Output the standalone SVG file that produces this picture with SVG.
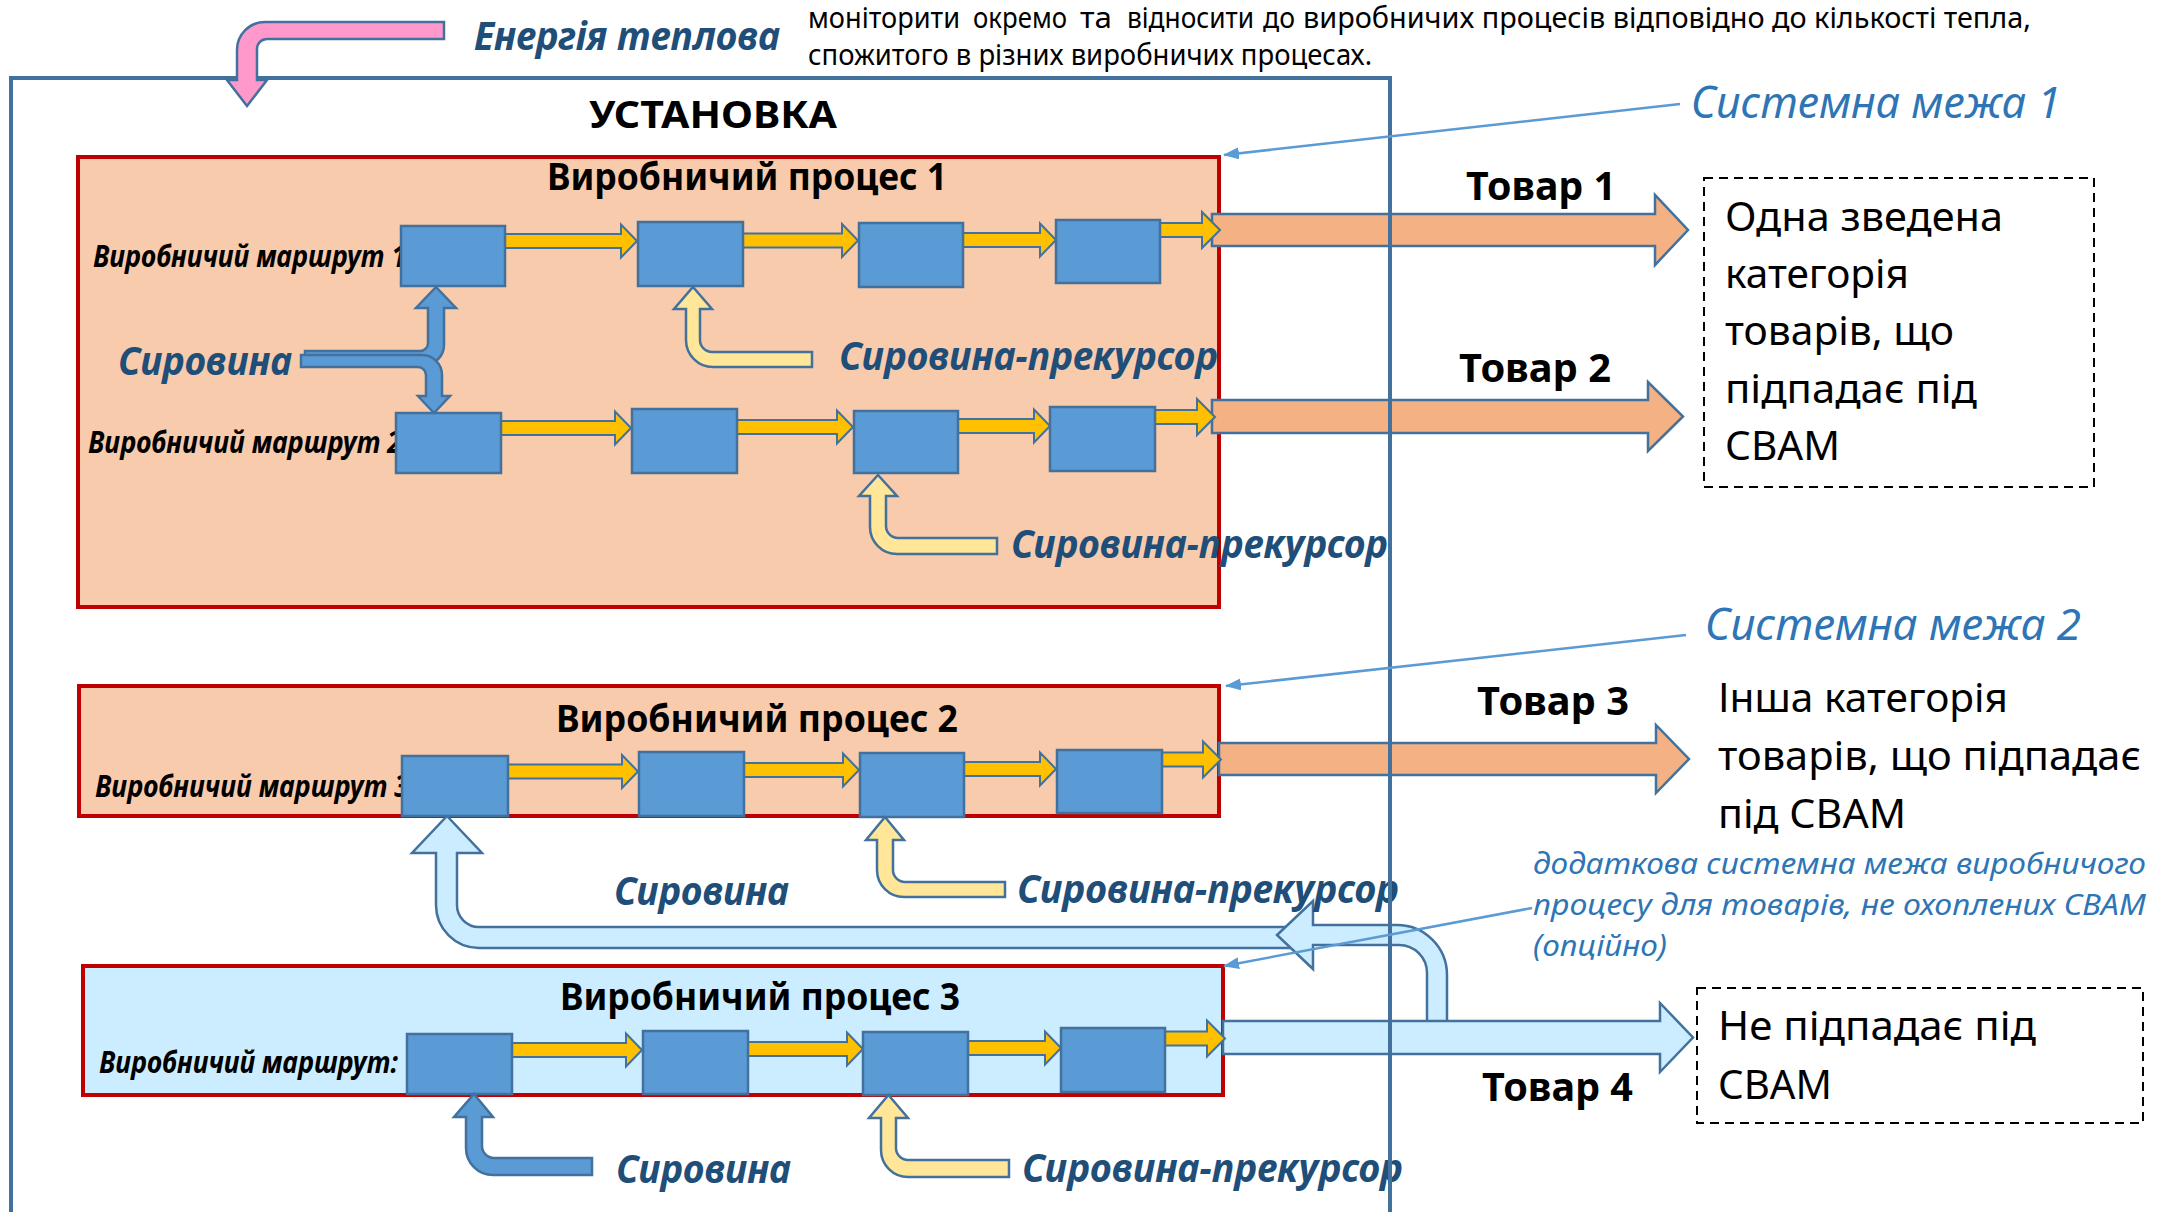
<svg xmlns="http://www.w3.org/2000/svg" width="2177" height="1212" viewBox="0 0 2177 1212">
<style>
text{font-family:"Noto Sans","Open Sans","DejaVu Sans",sans-serif}
.proc{stroke:#C00000;stroke-width:4}
.box{fill:#5B9BD5;stroke:#41719C;stroke-width:2.5}
.ya{fill:#FFC000;stroke:#41719C;stroke-width:2}
.pre{fill:#FFE699;stroke:#41719C;stroke-width:2.5}
.raw{fill:#5B9BD5;stroke:#41719C;stroke-width:2.5}
.lb{fill:#CCECFF;stroke:#41719C;stroke-width:2.5}
.prod{fill:#F4B183;stroke:#41719C;stroke-width:2.5}
.ptr{stroke:#5B9BD5;stroke-width:2.5;fill:none}
.dash{fill:none;stroke:#000;stroke-width:2;stroke-dasharray:9 6}
.t-title{font-weight:700;font-size:37px;fill:#000}
.t-route{font-weight:700;font-style:italic;font-size:30px;fill:#000}
.t-lab{font-weight:700;font-style:italic;font-size:39px;fill:#1F4E79}
.t-good{font-weight:700;font-size:40px;fill:#000}
.t-cat{font-size:40px;fill:#000}
.t-sys{font-style:italic;font-size:43px;fill:#2E75B6}
.t-note{font-style:italic;font-size:30px;fill:#2E75B6}
.t-top{font-size:29px;fill:#000}
</style>
<defs>
<marker id="ah" markerUnits="userSpaceOnUse" markerWidth="16" markerHeight="12" refX="15" refY="6" orient="auto">
<path d="M0,0 L16,6 L0,12 Z" fill="#5B9BD5"/>
</marker>
</defs>

<g id="process1">
<rect class="proc" x="78" y="157" width="1141" height="450" fill="#F8CBAD"/>
<text class="t-route" x="93" y="267" textLength="313" lengthAdjust="spacingAndGlyphs">Виробничий маршрут 1</text>
<text class="t-route" x="88" y="453" textLength="314" lengthAdjust="spacingAndGlyphs">Виробничий маршрут 2</text>
<text class="t-title" x="547" y="190" textLength="400" lengthAdjust="spacingAndGlyphs">Виробничий процес 1</text>
</g>
<g id="process2">
<rect class="proc" x="79" y="686" width="1140" height="130" fill="#F8CBAD"/>
<text class="t-route" x="95" y="797" textLength="314" lengthAdjust="spacingAndGlyphs">Виробничий маршрут 3</text>
<text class="t-title" x="556" y="732" textLength="402" lengthAdjust="spacingAndGlyphs">Виробничий процес 2</text>
</g>
<g id="process3">
<rect class="proc" x="83" y="966" width="1140" height="129" fill="#CCECFF"/>
<text class="t-route" x="99" y="1073" textLength="299" lengthAdjust="spacingAndGlyphs">Виробничий маршрут:</text>
<text class="t-title" x="560" y="1010" textLength="400" lengthAdjust="spacingAndGlyphs">Виробничий процес 3</text>
</g>

<g id="connectors">
<path class="prod" d="M1212,214 L1655,214 L1655,195 L1688,230 L1655,265 L1655,246 L1212,246 Z"/>
<path class="prod" d="M1212,400 L1648,400 L1648,382 L1683,416.5 L1648,451 L1648,433 L1212,433 Z"/>
<path class="prod" d="M1219,743 L1656,743 L1656,725 L1689,759 L1656,793 L1656,775 L1219,775 Z"/>
<path class="lb" d="M447,816 L482,853 L457,853 L457,905 A22,22 0 0 0 479,927 L1300,927 L1300,948 L479,948 A43,43 0 0 1 436,905 L436,853 L412,853 Z"/>
<path class="lb" d="M1427,1030 L1427,973 A28,28 0 0 0 1399,945 L1313,945 L1313,969 L1277,935 L1313,901 L1313,925 L1397,925 A50,50 0 0 1 1447,975 L1447,1030 Z"/>
<path class="lb" d="M1223,1021 L1660,1021 L1660,1003 L1693,1037.5 L1660,1072 L1660,1054 L1223,1054 Z"/>

<path class="ya" d="M505,234 L621,234 L621,224.5 L637,241 L621,257.5 L621,248 L505,248 Z"/>
<path class="ya" d="M743,233.5 L842,233.5 L842,224 L858,240.5 L842,257 L842,247.5 L743,247.5 Z"/>
<path class="ya" d="M963,233 L1040,233 L1040,223.5 L1056,240 L1040,256.5 L1040,247 L963,247 Z"/>
<path class="ya" d="M1160,223 L1202,223 L1202,212 L1220,230 L1202,248 L1202,237 L1160,237 Z"/>
<path class="ya" d="M501,421 L615,421 L615,411.5 L631,428 L615,444.5 L615,435 L501,435 Z"/>
<path class="ya" d="M737,420 L837,420 L837,410.5 L853,427 L837,443.5 L837,434 L737,434 Z"/>
<path class="ya" d="M958,419 L1034,419 L1034,409.5 L1050,426 L1034,442.5 L1034,433 L958,433 Z"/>
<path class="ya" d="M1155,410 L1197,410 L1197,399 L1215,417 L1197,435 L1197,424 L1155,424 Z"/>
<path class="ya" d="M508,764.5 L622,764.5 L622,755 L638,771.5 L622,788 L622,778.5 L508,778.5 Z"/>
<path class="ya" d="M744,763 L843,763 L843,753.5 L859,770 L843,786.5 L843,777 L744,777 Z"/>
<path class="ya" d="M964,762 L1040,762 L1040,752.5 L1056,769 L1040,785.5 L1040,776 L964,776 Z"/>
<path class="ya" d="M1162,752.5 L1203,752.5 L1203,741.5 L1221,759.5 L1203,777.5 L1203,766.5 L1162,766.5 Z"/>
<path class="ya" d="M512,1043 L626,1043 L626,1033.5 L642,1050 L626,1066.5 L626,1057 L512,1057 Z"/>
<path class="ya" d="M748,1042 L847,1042 L847,1032.5 L863,1049 L847,1065.5 L847,1056 L748,1056 Z"/>
<path class="ya" d="M968,1041 L1045,1041 L1045,1031.5 L1061,1048 L1045,1064.5 L1045,1055 L968,1055 Z"/>
<path class="ya" d="M1165,1031.5 L1207,1031.5 L1207,1020.5 L1225,1038.5 L1207,1056.5 L1207,1045.5 L1165,1045.5 Z"/>
</g>

<g id="units">
<rect class="box" x="401" y="226" width="104" height="60"/>
<rect class="box" x="638" y="222" width="105" height="64"/>
<rect class="box" x="859" y="223" width="104" height="64"/>
<rect class="box" x="1056" y="220" width="104" height="63"/>
<rect class="box" x="396" y="413" width="105" height="60"/>
<rect class="box" x="632" y="409" width="105" height="64"/>
<rect class="box" x="854" y="411" width="104" height="62"/>
<rect class="box" x="1050" y="407" width="105" height="64"/>
<rect class="box" x="402" y="756" width="106" height="60"/>
<rect class="box" x="639" y="752" width="105" height="64"/>
<rect class="box" x="860" y="753" width="104" height="64"/>
<rect class="box" x="1057" y="750" width="105" height="63"/>
<rect class="box" x="407" y="1034" width="105" height="60"/>
<rect class="box" x="643" y="1031" width="105" height="63"/>
<rect class="box" x="863" y="1032" width="105" height="63"/>
<rect class="box" x="1061" y="1028" width="104" height="64"/>
</g>

<g id="inputs">
<path class="raw" d="M436,287 L456,308 L444,308 L444,345 A20,20 0 0 1 424,365 L305,365 L305,351 L420,351 A8,8 0 0 0 428,343 L428,308 L416,308 Z"/>
<path class="raw" d="M301,355 L422,355 A20,20 0 0 1 442,375 L442,396 L450,396 L434,413 L418,396 L426,396 L426,375 A8,8 0 0 0 418,367 L301,367 Z"/>
<path class="pre" d="M693,287 L712,309 L700,309 L700,340 A12,12 0 0 0 712,352 L812,352 L812,367 L713,367 A27,27 0 0 1 686,340 L686,309 L674,309 Z"/>
<path class="pre" d="M878,475 L897,496 L886,496 L886,526 A12,12 0 0 0 898,538 L997,538 L997,554 L897,554 A27,27 0 0 1 870,527 L870,496 L859,496 Z"/>
<path class="pre" d="M885,817 L904,840 L893,840 L893,870 A12,12 0 0 0 905,882 L1005,882 L1005,897 L904,897 A27,27 0 0 1 877,870 L877,840 L866,840 Z"/>
<path class="pre" d="M888.5,1095 L908,1118 L896,1118 L896,1148 A12,12 0 0 0 908,1160 L1009,1160 L1009,1177 L908,1177 A27,27 0 0 1 881,1150 L881,1118 L869,1118 Z"/>
<path class="raw" d="M474,1094 L493,1117 L482,1117 L482,1146 A12,12 0 0 0 494,1158 L592,1158 L592,1175 L493,1175 A27,27 0 0 1 466,1148 L466,1117 L454,1117 Z"/>
</g>

<g id="labels">
<text class="t-lab" x="118" y="375" textLength="174" lengthAdjust="spacingAndGlyphs">Сировина</text>
<text class="t-lab" x="839" y="370" textLength="379" lengthAdjust="spacingAndGlyphs">Сировина-прекурсор</text>
<text class="t-lab" x="1011" y="558" textLength="377" lengthAdjust="spacingAndGlyphs">Сировина-прекурсор</text>
<text class="t-lab" x="614" y="905" textLength="175" lengthAdjust="spacingAndGlyphs">Сировина</text>
<text class="t-lab" x="1017" y="903" textLength="382" lengthAdjust="spacingAndGlyphs">Сировина-прекурсор</text>
<text class="t-lab" x="616" y="1183" textLength="175" lengthAdjust="spacingAndGlyphs">Сировина</text>
<text class="t-lab" x="1022" y="1182" textLength="381" lengthAdjust="spacingAndGlyphs">Сировина-прекурсор</text>
</g>

<g id="installation">
<rect x="11" y="78" width="1379" height="1200" fill="none" stroke="#41719C" stroke-width="4"/>
<text class="t-title" x="589" y="128" font-size="44" textLength="248" lengthAdjust="spacingAndGlyphs">УСТАНОВКА</text>
</g>

<g id="heat">
<path d="M444,22 L265,22 A28,28 0 0 0 237,50 L237,80 L227,80 L247,106 L267,80 L257,80 L257,49 A10,10 0 0 1 267,39 L444,39 Z" fill="#FF99CC" stroke="#41719C" stroke-width="2.5"/>
<text class="t-lab" x="474" y="50" font-size="41" textLength="306" lengthAdjust="spacingAndGlyphs">Енергія теплова</text>
</g>

<g id="note-top">
<text class="t-top" x="808" y="28" textLength="152" lengthAdjust="spacingAndGlyphs">моніторити</text>
<text class="t-top" x="973" y="28" textLength="94" lengthAdjust="spacingAndGlyphs">окремо</text>
<text class="t-top" x="1080" y="28" textLength="32" lengthAdjust="spacingAndGlyphs">та</text>
<text class="t-top" x="1127" y="28" textLength="127" lengthAdjust="spacingAndGlyphs">відносити</text>
<text class="t-top" x="1263" y="28" textLength="32" lengthAdjust="spacingAndGlyphs">до</text>
<text class="t-top" x="1303" y="28" textLength="728" lengthAdjust="spacingAndGlyphs">виробничих процесів відповідно до кількості тепла,</text>
<text class="t-top" x="808" y="65" textLength="564" lengthAdjust="spacingAndGlyphs">спожитого в різних виробничих процесах.</text>
</g>

<g id="goods">
<text class="t-good" x="1466" y="200" textLength="150" lengthAdjust="spacingAndGlyphs">Товар 1</text>
<text class="t-good" x="1459" y="382" textLength="152" lengthAdjust="spacingAndGlyphs">Товар 2</text>
<text class="t-good" x="1477" y="715" textLength="152" lengthAdjust="spacingAndGlyphs">Товар 3</text>
<text class="t-good" x="1482" y="1101" textLength="151" lengthAdjust="spacingAndGlyphs">Товар 4</text>
</g>

<g id="category1">
<rect class="dash" x="1704" y="178" width="390" height="309"/>
<text class="t-cat" x="1725" y="231" textLength="278" lengthAdjust="spacingAndGlyphs">Одна зведена</text>
<text class="t-cat" x="1725" y="288" textLength="184" lengthAdjust="spacingAndGlyphs">категорія</text>
<text class="t-cat" x="1725" y="345" textLength="229" lengthAdjust="spacingAndGlyphs">товарів, що</text>
<text class="t-cat" x="1725" y="403" textLength="252" lengthAdjust="spacingAndGlyphs">підпадає під</text>
<text class="t-cat" x="1725" y="460" textLength="115" lengthAdjust="spacingAndGlyphs">СВАМ</text>
</g>
<g id="category2">
<text class="t-cat" x="1718" y="712" textLength="290" lengthAdjust="spacingAndGlyphs">Інша категорія</text>
<text class="t-cat" x="1718" y="770" textLength="423" lengthAdjust="spacingAndGlyphs">товарів, що підпадає</text>
<text class="t-cat" x="1718" y="828" textLength="188" lengthAdjust="spacingAndGlyphs">під СВАМ</text>
</g>
<g id="category3">
<rect class="dash" x="1697" y="988" width="446" height="135"/>
<text class="t-cat" x="1718" y="1040" textLength="318" lengthAdjust="spacingAndGlyphs">Не підпадає під</text>
<text class="t-cat" x="1718" y="1099" textLength="114" lengthAdjust="spacingAndGlyphs">СВАМ</text>
</g>

<g id="boundaries">
<text class="t-sys" x="1691" y="118" textLength="370" lengthAdjust="spacingAndGlyphs">Системна межа 1</text>
<text class="t-sys" x="1705" y="640" textLength="376" lengthAdjust="spacingAndGlyphs">Системна межа 2</text>
<text class="t-note" x="1533" y="874" textLength="613" lengthAdjust="spacingAndGlyphs">додаткова системна межа виробничого</text>
<text class="t-note" x="1533" y="915" textLength="613" lengthAdjust="spacingAndGlyphs">процесу для товарів, не охоплених СВАМ</text>
<text class="t-note" x="1533" y="956" textLength="134" lengthAdjust="spacingAndGlyphs">(опційно)</text>
<line class="ptr" x1="1680" y1="104" x2="1224" y2="155" marker-end="url(#ah)"/>
<line class="ptr" x1="1686" y1="635" x2="1226" y2="686" marker-end="url(#ah)"/>
<line class="ptr" x1="1532" y1="908" x2="1224" y2="966" marker-end="url(#ah)"/>
</g>
</svg>
